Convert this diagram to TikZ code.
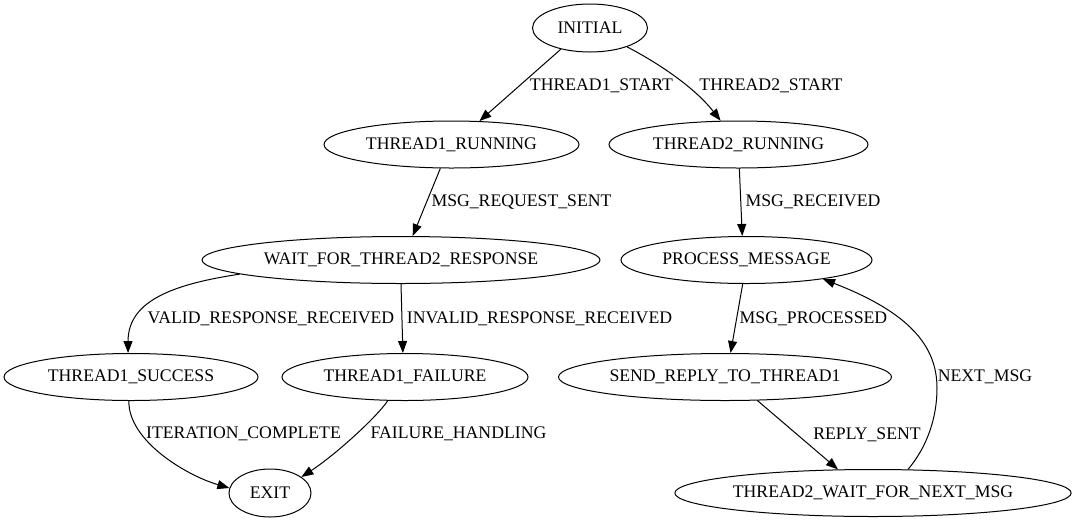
\documentclass[tikz,border=0pt]{standalone}
\usepackage{fontspec}
\setmainfont{Liberation Serif}
\usetikzlibrary{arrows.meta,shapes.geometric}
\begin{document}
\begin{tikzpicture}[x=1pt,y=-1pt,
  st/.style={draw, ellipse, line width=1pt, inner sep=0pt, minimum height=47pt, font=\fontsize{17.7}{20}\selectfont},
  lbl/.style={inner sep=0pt, font=\fontsize{17.7}{20}\selectfont},
  arr/.style={draw, line width=1pt, -{Triangle[length=12pt,width=9pt]}}]
\fill[white] (0,0) rectangle (1085,523);
\useasboundingbox (0,0) rectangle (1085,523);
% states
\node[st, minimum width=115pt, minimum height=48pt] (init) at (590,28) {INITIAL};
\node[st, minimum width=255pt] (t1run) at (451.5,144.5) {THREAD1\_RUNNING};
\node[st, minimum width=259pt] (t2run) at (738.5,144.5) {THREAD2\_RUNNING};
\node[st, minimum width=398pt] (wait) at (401,260) {WAIT\_FOR\_THREAD2\_RESPONSE};
\node[st, minimum width=251pt] (pm) at (746.5,260) {PROCESS\_MESSAGE};
\node[st, minimum width=254pt] (succ) at (131,377) {THREAD1\_SUCCESS};
\node[st, minimum width=246pt] (fail) at (405,377) {THREAD1\_FAILURE};
\node[st, minimum width=333pt] (send) at (725,377) {SEND\_REPLY\_TO\_THREAD1};
\node[st, minimum width=82pt, minimum height=48pt] (exit) at (270,493) {EXIT};
\node[st, minimum width=394pt] (tw) at (873,493) {THREAD2\_WAIT\_FOR\_NEXT\_MSG};
% connectors
\draw[arr] (init.216) -- (t1run.40);
\draw[arr] (init.-27) .. controls (660,64) and (695,88) .. (t2run.127);
\draw[arr] (t1run.-115) -- (wait.64);
\draw[arr] (t2run.-88) -- (pm.100);
\draw[arr] (wait.185.5) .. controls (175,284) and (128,300) .. (succ.97);
\draw[arr] (wait.-90) -- (fail.95);
\draw[arr] (pm.-99) -- (send.77);
\draw[arr] (send.-36) -- (tw.146);
\draw[arr] (tw.34) .. controls (927,447) and (937,418) .. (937,388)
  .. controls (937,345) and (908,312) .. (pm.-14);
\draw[arr] (succ.-95) .. controls (128,440) and (185,475) .. (exit.173);
\draw[arr] (fail.-126) .. controls (376,418) and (335,455) .. (exit.27);
% labels
\node[lbl] (l1) at (601.5,86) {THREAD1\_START};
\node[lbl] (l2) at (771,86) {THREAD2\_START};
\node[lbl] (l3) at (521.5,202) {MSG\_REQUEST\_SENT};
\node[lbl] (l4) at (813,202) {MSG\_RECEIVED};
\node[lbl] (l5) at (271,319) {VALID\_RESPONSE\_RECEIVED};
\node[lbl] (l6) at (539.5,319) {INVALID\_RESPONSE\_RECEIVED};
\node[lbl] (l7) at (813.5,319) {MSG\_PROCESSED};
\node[lbl] (l8) at (985,377) {NEXT\_MSG};
\node[lbl] (l9) at (867,435) {REPLY\_SENT};
\node[lbl] (l10) at (243.5,434) {ITERATION\_COMPLETE};
\node[lbl] (l11) at (458.5,434) {FAILURE\_HANDLING};
\end{tikzpicture}
\end{document}
